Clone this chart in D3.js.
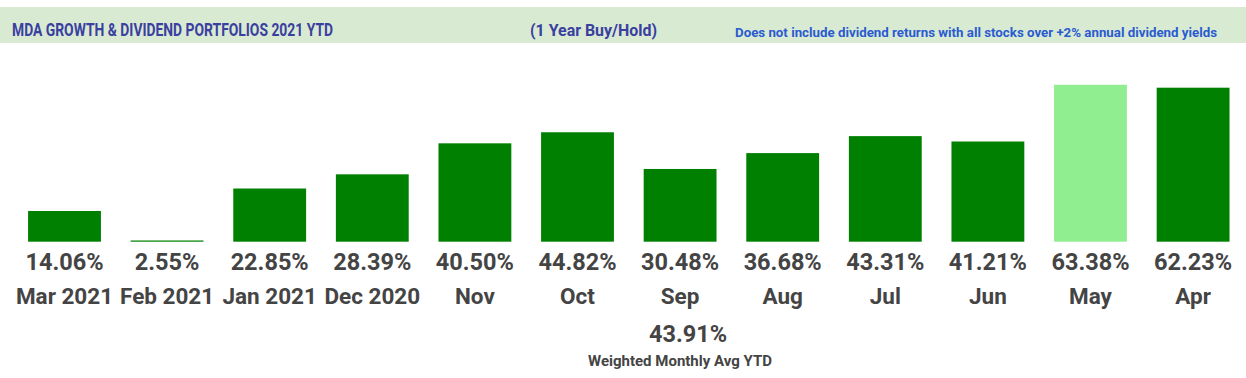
<!DOCTYPE html>
<html><head><meta charset="utf-8">
<script src="https://cdn.jsdelivr.net/npm/d3@7"></script>
<style>body{margin:0;background:#fff}svg{display:block;font-family:Roboto,"Noto Sans",sans-serif}</style>
</head><body><svg id="c" width="1246" height="378"></svg>
<script>
const categories = ["Mar 2021","Feb 2021","Jan 2021","Dec 2020","Nov","Oct","Sep","Aug","Jul","Jun","May","Apr"];
const values = [14.06,2.55,22.85,28.39,40.50,44.82,30.48,36.68,43.31,41.21,63.38,62.23];
const highlight = ["May"];
const weightedAvg = 43.91;
const titleText = "MDA GROWTH & DIVIDEND PORTFOLIOS 2021 YTD";
const subText = "(1 Year Buy/Hold)";
const noteText = "Does not include dividend returns with all stocks over +2% annual dividend yields";
const avgLabel = "Weighted Monthly Avg YTD";

const svg = d3.select("#c");
// header band
svg.append("rect").attr("x",0).attr("y",7).attr("width",1246).attr("height",36).attr("fill","#d9ead3");
svg.append("text").attr("x",12).attr("y",35.5).attr("font-size",18.5).attr("font-weight","bold")
  .attr("fill","#3a40a0").attr("textLength",321).attr("lengthAdjust","spacingAndGlyphs").text(titleText);
svg.append("text").attr("x",530).attr("y",36).attr("font-size",16.5).attr("font-weight","bold")
  .attr("fill","#3a40a0").attr("textLength",127).attr("lengthAdjust","spacingAndGlyphs").text(subText);
svg.append("text").attr("x",735).attr("y",37).attr("font-size",12.5).attr("font-weight","bold")
  .attr("fill","#2a5bd0").attr("textLength",482).attr("lengthAdjust","spacingAndGlyphs").text(noteText);

const x = d3.scaleBand().domain(categories).range([13.2,1244.4]).paddingInner(0.29).paddingOuter(0.145);
const y = d3.scaleLinear().domain([2.07,65]).range([241.7,241.7-2.56*(65-2.07)]);

svg.append("g").selectAll("rect").data(values).join("rect")
  .attr("x",(d,i)=>x(categories[i])).attr("width",x.bandwidth())
  .attr("y",d=>y(d)).attr("height",d=>Math.max(1,y.range()[0]-y(d)))
  .attr("fill",(d,i)=>highlight.includes(categories[i])?"#90ee90":"#008000");

svg.append("g").selectAll("text").data(values).join("text")
  .attr("x",(d,i)=>x(categories[i])+x.bandwidth()/2).attr("y",270)
  .attr("text-anchor","middle").attr("font-size",23.5).attr("font-weight","bold").attr("fill","#444")
  .text(d=>d.toFixed(2)+"%");

svg.append("g").selectAll("text").data(categories).join("text")
  .attr("x",d=>x(d)+x.bandwidth()/2).attr("y",304)
  .attr("text-anchor","middle").attr("font-size",22.5).attr("font-weight","bold").attr("fill","#444")
  .text(d=>d);

svg.append("text").attr("x",688).attr("y",342).attr("text-anchor","middle").attr("font-size",23.5)
  .attr("font-weight","bold").attr("fill","#444").text(weightedAvg.toFixed(2)+"%");
svg.append("text").attr("x",680).attr("y",366).attr("text-anchor","middle").attr("font-size",15)
  .attr("font-weight","bold").attr("fill","#444").text(avgLabel);
</script></body></html>
